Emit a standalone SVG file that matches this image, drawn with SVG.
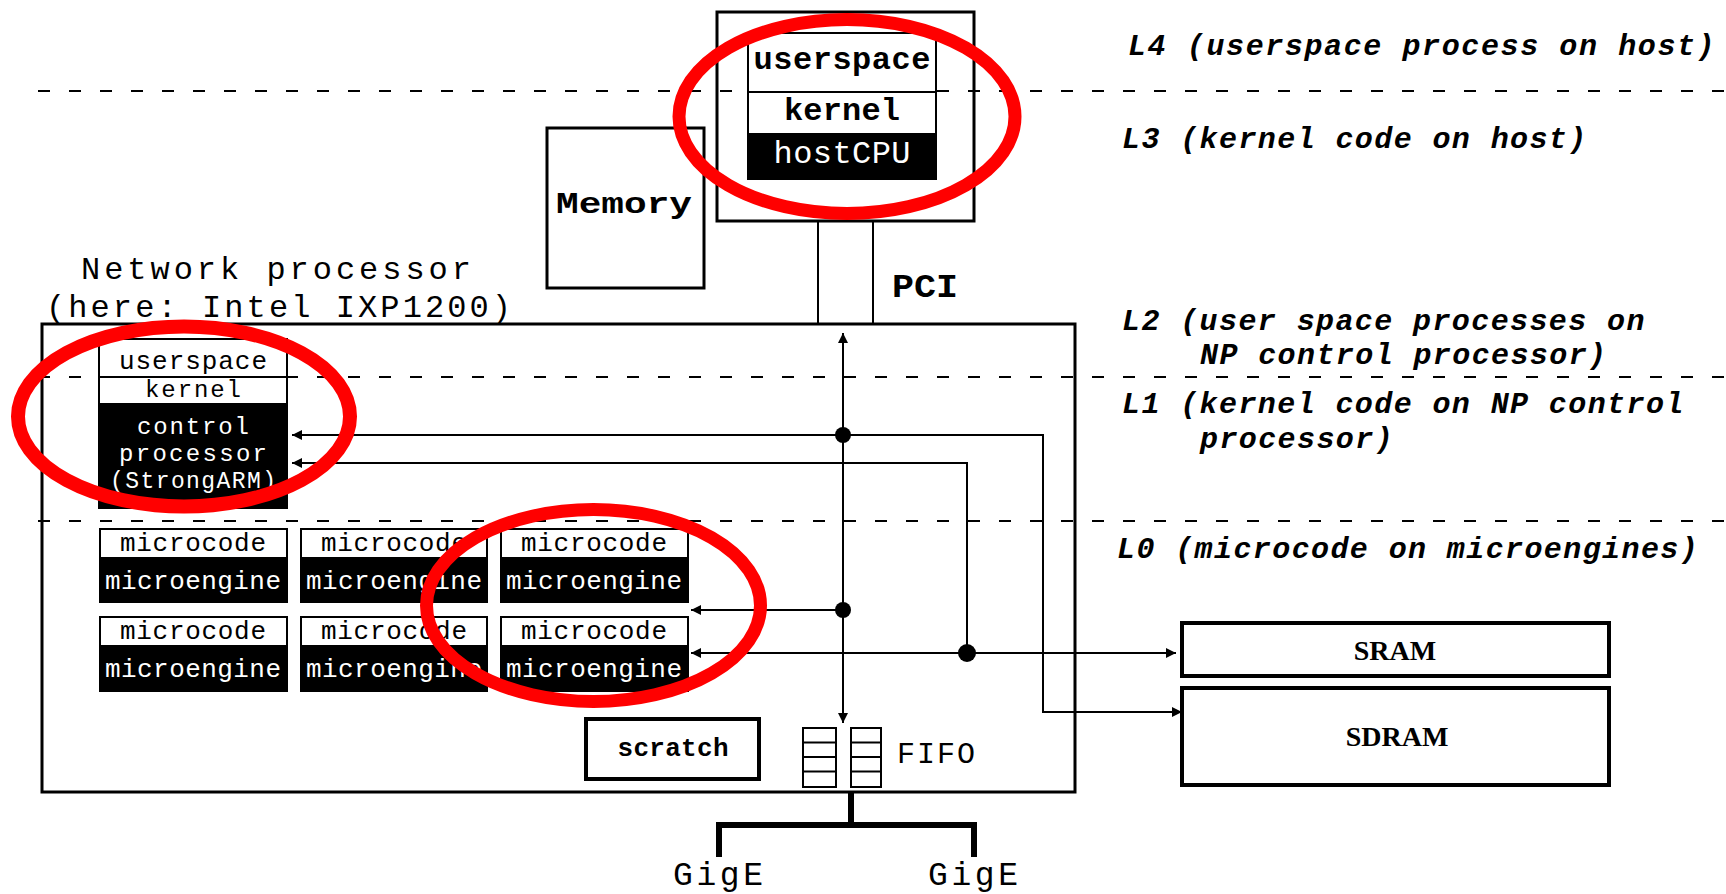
<svg xmlns="http://www.w3.org/2000/svg" width="1726" height="894" viewBox="0 0 1726 894">
<defs>
<style>
.box{fill:#fff;stroke:#000;stroke-width:3}
.thin{fill:#fff;stroke:#000;stroke-width:2}
.blk{fill:#000;stroke:#000;stroke-width:2}
.dash{stroke:#000;stroke-width:2;stroke-dasharray:12 19;fill:none}
.ln{stroke:#000;stroke-width:2;fill:none}
.mono{font-family:"Liberation Mono","DejaVu Sans Mono",monospace;fill:#000}
.mw{font-family:"Liberation Mono","DejaVu Sans Mono",monospace;fill:#fff}
.lab{font-family:"Liberation Mono","DejaVu Sans Mono",monospace;font-size:30px;letter-spacing:1.4px;font-weight:bold;font-style:italic;fill:#000}
.red{fill:none;stroke:#ff0000;stroke-width:13}
</style>
<marker id="ah" viewBox="0 0 10 10" refX="10" refY="5" markerWidth="11" markerHeight="10" markerUnits="userSpaceOnUse" orient="auto-start-reverse">
<path d="M0,0 L10,5 L0,10 z" fill="#000"/>
</marker>
</defs>
<rect width="1726" height="894" fill="#fff"/>

<!-- dashed level separators -->
<g id="levels">
<line class="dash" x1="38" y1="91" x2="1726" y2="91"/>
<line class="dash" x1="38" y1="377" x2="1726" y2="377"/>
<line class="dash" x1="38" y1="521" x2="1726" y2="521"/>
</g>

<g id="labels">
<text class="lab" x="1128" y="55" textLength="588">L4 (userspace process on host)</text>
<text class="lab" x="1122" y="148">L3 (kernel code on host)</text>
<text class="lab" x="1122" y="330">L2 (user space processes on</text>
<text class="lab" x="1200" y="364">NP control processor)</text>
<text class="lab" x="1122" y="413">L1 (kernel code on NP control</text>
<text class="lab" x="1200" y="448">processor)</text>
<text class="lab" x="1117" y="558">L0 (microcode on microengines)</text>
</g>

<g id="host">
<rect class="box" x="717" y="12" width="257" height="209" style="fill:none"/>
<rect class="thin" x="748" y="33" width="188" height="59"/>
<rect class="thin" x="748" y="92" width="188" height="42"/>
<rect class="blk" x="748" y="134" width="188" height="45"/>
<text class="mono" x="842" y="69" font-size="32" font-weight="bold" text-anchor="middle" textLength="177">userspace</text>
<text class="mono" x="842" y="120" font-size="32" font-weight="bold" text-anchor="middle" textLength="116">kernel</text>
<text class="mw" x="842" y="163" font-size="32" text-anchor="middle" textLength="137">hostCPU</text>
</g>

<g id="memory">
<rect class="box" x="547" y="128" width="157" height="160"/>
<text class="mono" x="624" y="213" font-size="30" font-weight="bold" text-anchor="middle" textLength="136" lengthAdjust="spacingAndGlyphs">Memory</text>
</g>

<g id="pci">
<line class="ln" x1="818" y1="221" x2="818" y2="324"/>
<line class="ln" x1="873" y1="221" x2="873" y2="324"/>
<text class="mono" x="925" y="297" font-size="33" font-weight="bold" text-anchor="middle" textLength="66" lengthAdjust="spacingAndGlyphs">PCI</text>
</g>

<g id="np">
<text class="mono" x="81" y="279" font-size="32" textLength="390">Network processor</text>
<text class="mono" x="46" y="317" font-size="32" textLength="465">(here: Intel IXP1200)</text>
<rect class="box" x="42" y="324" width="1033" height="468" style="fill:none"/>
</g>

<g id="control">
<rect class="thin" x="99" y="339" width="188" height="38"/>
<rect class="thin" x="99" y="377" width="188" height="27"/>
<rect class="blk" x="99" y="404" width="188" height="104"/>
<text class="mono" x="193" y="369" font-size="26" text-anchor="middle" textLength="148">userspace</text>
<text class="mono" x="193" y="397" font-size="24" text-anchor="middle" textLength="96">kernel</text>
<text class="mw" x="193" y="434" font-size="24" text-anchor="middle" textLength="112">control</text>
<text class="mw" x="193" y="461" font-size="24" text-anchor="middle" textLength="148">processor</text>
<text class="mw" x="193" y="488" font-size="23" text-anchor="middle" textLength="166">(StrongARM)</text>
</g>

<g id="me1">
<rect class="thin" x="100" y="529" width="187" height="29"/><rect class="blk" x="100" y="558" width="187" height="44"/>
<text class="mono" x="193" y="551" font-size="26" text-anchor="middle" textLength="146">microcode</text>
<text class="mw" x="193" y="589" font-size="26" text-anchor="middle" textLength="176">microengine</text>
</g>
<g id="me2">
<rect class="thin" x="301" y="529" width="186" height="29"/><rect class="blk" x="301" y="558" width="186" height="44"/>
<text class="mono" x="394" y="551" font-size="26" text-anchor="middle" textLength="146">microcode</text>
<text class="mw" x="394" y="589" font-size="26" text-anchor="middle" textLength="176">microengine</text>
</g>
<g id="me3">
<rect class="thin" x="501" y="529" width="187" height="29"/><rect class="blk" x="501" y="558" width="187" height="44"/>
<text class="mono" x="594" y="551" font-size="26" text-anchor="middle" textLength="146">microcode</text>
<text class="mw" x="594" y="589" font-size="26" text-anchor="middle" textLength="176">microengine</text>
</g>
<g id="me4">
<rect class="thin" x="100" y="617" width="187" height="29"/><rect class="blk" x="100" y="646" width="187" height="45"/>
<text class="mono" x="193" y="639" font-size="26" text-anchor="middle" textLength="146">microcode</text>
<text class="mw" x="193" y="677" font-size="26" text-anchor="middle" textLength="176">microengine</text>
</g>
<g id="me5">
<rect class="thin" x="301" y="617" width="186" height="29"/><rect class="blk" x="301" y="646" width="186" height="45"/>
<text class="mono" x="394" y="639" font-size="26" text-anchor="middle" textLength="146">microcode</text>
<text class="mw" x="394" y="677" font-size="26" text-anchor="middle" textLength="176">microengine</text>
</g>
<g id="me6">
<rect class="thin" x="501" y="617" width="187" height="29"/><rect class="blk" x="501" y="646" width="187" height="45"/>
<text class="mono" x="594" y="639" font-size="26" text-anchor="middle" textLength="146">microcode</text>
<text class="mw" x="594" y="677" font-size="26" text-anchor="middle" textLength="176">microengine</text>
</g>

<g id="scratch">
<rect class="box" x="586" y="719" width="173" height="60" style="stroke-width:4"/>
<text class="mono" x="673" y="756" font-size="26" font-weight="bold" text-anchor="middle" textLength="111">scratch</text>
</g>

<g id="fifo">
<rect class="thin" x="803" y="728" width="33" height="59"/>
<rect class="thin" x="851" y="728" width="30" height="59"/>
<path class="ln" d="M803,742.5H836M803,757H836M803,771.5H836M851,742.5H881M851,757H881M851,771.5H881"/>
<text class="mono" x="897" y="763" font-size="30" textLength="78">FIFO</text>
</g>

<g id="sram">
<rect class="box" x="1182" y="623" width="427" height="53" style="stroke-width:4"/>
<text x="1395" y="660" font-family="Liberation Serif, serif" font-size="28" font-weight="bold" text-anchor="middle">SRAM</text>
</g>
<g id="sdram">
<rect class="box" x="1182" y="688" width="427" height="97" style="stroke-width:4"/>
<text x="1397" y="746" font-family="Liberation Serif, serif" font-size="28" font-weight="bold" text-anchor="middle">SDRAM</text>
</g>

<g id="gige">
<path d="M851,792V825M719,825H974M719,822V857M974,822V857" stroke="#000" stroke-width="6" fill="none"/>
<text class="mono" x="718" y="885" font-size="33" text-anchor="middle" textLength="90">GigE</text>
<text class="mono" x="973" y="885" font-size="33" text-anchor="middle" textLength="90">GigE</text>
</g>

<g id="connectors">
<path class="ln" d="M843,333V723" marker-start="url(#ah)" marker-end="url(#ah)"/>
<path class="ln" d="M292,435H1043V712H1182" marker-start="url(#ah)" marker-end="url(#ah)"/>
<path class="ln" d="M292,463H967V653"/>
<path d="M292,463H300" marker-start="url(#ah)" class="ln"/>
<path class="ln" d="M691,653H1176" marker-start="url(#ah)" marker-end="url(#ah)"/>
<path class="ln" d="M691,610H843" marker-start="url(#ah)"/>
<circle cx="843" cy="435" r="8" fill="#000"/>
<circle cx="843" cy="610" r="8" fill="#000"/>
<circle cx="967" cy="653" r="9" fill="#000"/>
</g>

<g id="highlights">
<ellipse class="red" cx="847" cy="116.5" rx="168" ry="97"/>
<ellipse class="red" cx="184" cy="416.5" rx="166" ry="90" style="stroke-width:14"/>
<ellipse class="red" cx="593.5" cy="605.5" rx="167" ry="96"/>
</g>
</svg>
